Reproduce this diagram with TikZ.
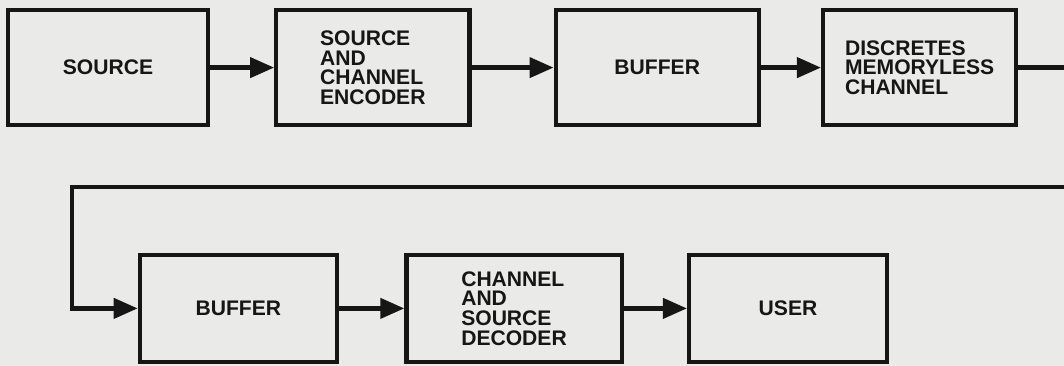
\documentclass[tikz,border=0pt]{standalone}
\usepackage{fontspec}
\setmainfont{Liberation Sans}
\usepackage{xcolor}
\usepackage{tikz}
\usetikzlibrary{arrows.meta,positioning}
\definecolor{paper}{HTML}{EAEAE8}
\definecolor{ink}{HTML}{161616}

\begin{document}
\begin{tikzpicture}[font=\fontsize{15pt}{14pt}\selectfont\bfseries,
  blk/.style={draw=ink,line width=3pt,align=left,text=ink,
              minimum width=49mm,minimum height=28.8mm,inner sep=2pt},
  lowblk/.style={blk,minimum height=26.8mm},
  w/.style={-{Triangle[length=6mm,width=5mm]},ink,line width=3pt}]
  \fill[paper] (0,0) rectangle (26.6,9.15);
  \useasboundingbox (0,0) rectangle (26.6,9.15);
  % top row
  \node[blk,minimum width=50mm] (src) at (2.7,7.46) {SOURCE};
  \node[blk,minimum width=48.3mm,right=16mm of src] (enc) {SOURCE\\AND\\CHANNEL\\ENCODER};
  \node[blk,minimum width=50.8mm,right=20.5mm of enc] (buf) {BUFFER};
  \node[blk,minimum width=48.3mm,right=15mm of buf] (dmc) {DISCRETES\\MEMORYLESS\\CHANNEL};
  % bottom row
  \node[lowblk,minimum width=49.3mm] (buf2) at (5.96,1.44) {BUFFER};
  \node[lowblk,minimum width=53.8mm,right=16.3mm of buf2] (dec) {CHANNEL\\AND\\SOURCE\\DECODER};
  \node[lowblk,minimum width=49.5mm,right=15.8mm of dec] (usr) {USER};
  \coordinate (out) at (26.6,0 |- dmc.east);
  \coordinate (ret) at (26.6,4.475);
  \coordinate (bend) at (1.8,4.475);
  \draw[w] (src) -- (enc); \draw[w] (enc) -- (buf); \draw[w] (buf) -- (dmc);
  \draw[ink,line width=3pt] (dmc) -- (out);
  \draw[w] (ret) -- (bend) |- (buf2.west);
  \draw[w] (buf2) -- (dec); \draw[w] (dec) -- (usr);
\end{tikzpicture}
\end{document}
